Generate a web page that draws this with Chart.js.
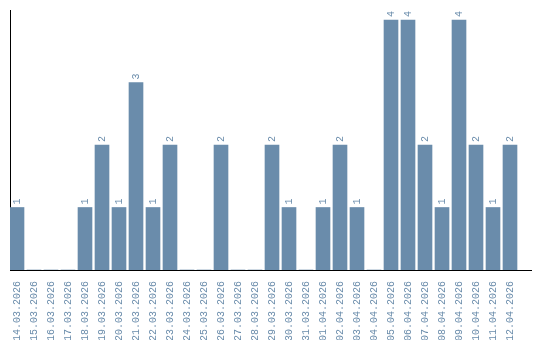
<!DOCTYPE html>
<html>
<head>
<meta charset="utf-8">
<script src="https://cdn.jsdelivr.net/npm/chart.js@4"></script>
<style>
  html, body { margin: 0; padding: 0; background: #fff; }
  #wrap { width: 540px; height: 340px; }
</style>
</head>
<body>
<div id="wrap"><canvas id="countChart" width="540" height="340"></canvas></div>
<script>
// Days and counts per day
const days = [
    '14.03.2026', '15.03.2026', '16.03.2026', '17.03.2026', '18.03.2026',
    '19.03.2026', '20.03.2026', '21.03.2026', '22.03.2026', '23.03.2026',
    '24.03.2026', '25.03.2026', '26.03.2026', '27.03.2026', '28.03.2026',
    '29.03.2026', '30.03.2026', '31.03.2026', '01.04.2026', '02.04.2026',
    '03.04.2026', '04.04.2026', '05.04.2026', '06.04.2026', '07.04.2026',
    '08.04.2026', '09.04.2026', '10.04.2026', '11.04.2026', '12.04.2026'
];
const counts = [
    1, 0, 0, 0, 1,
    2, 1, 3, 1, 2,
    0, 0, 2, 0, 0,
    2, 1, 0, 1, 2,
    1, 0, 4, 4, 2,
    1, 4, 2, 1, 2
];

const barColor = '#6a8cab';
const monoFont = '"Liberation Mono"';

// value labels above the bars, rotated like the axis labels
const barLabels = {
    id: 'barLabels',
    afterDatasetsDraw(chart) {
        const ctx = chart.ctx;
        const meta = chart.getDatasetMeta(0);
        ctx.save();
        ctx.fillStyle = barColor;
        ctx.font = '10px ' + monoFont;
        ctx.textAlign = 'left';
        ctx.textBaseline = 'middle';
        meta.data.forEach((bar, i) => {
            if (!counts[i]) return;
            ctx.save();
            ctx.translate(bar.x + 0.5, bar.y - 3);
            ctx.rotate(-Math.PI / 2);
            ctx.fillText(String(counts[i]), 0, 0);
            ctx.restore();
        });
        ctx.restore();
    }
};

document.addEventListener('DOMContentLoaded', () => {
    const ctx = document.getElementById('countChart').getContext('2d');
    new Chart(ctx, {
        type: 'bar',
        data: {
            datasets: [{
                data: counts.map((v, i) => ({ x: i, y: v })),
                backgroundColor: barColor,
                borderWidth: 0,
                barThickness: 14,
            }]
        },
        options: {
            responsive: false,
            animation: false,
            layout: { padding: { left: 10, top: 10, right: 9, bottom: 0 } },
            plugins: {
                legend: { display: false },
                tooltip: { enabled: false }
            },
            scales: {
                x: {
                    type: 'linear',
                    offset: false,
                    min: -7 / 17,
                    max: 521 / 17 - 7 / 17,
                    grid: { display: false },
                    border: { display: true, color: '#000', width: 1 },
                    afterBuildTicks: s => { s.ticks = days.map((_, i) => ({ value: i })); },
                    afterFit: s => { s.height = 70; },
                    ticks: {
                        autoSkip: false,
                        minRotation: 90,
                        maxRotation: 90,
                        padding: 3,
                        color: barColor,
                        font: { family: monoFont, size: 10 },
                        callback: value => days[value]
                    }
                },
                y: {
                    min: 0,
                    max: 4.16,
                    grid: { display: false },
                    border: { display: true, color: '#000', width: 1 },
                    ticks: { display: false },
                    afterFit: s => { s.width = 0; }
                }
            }
        },
        plugins: [barLabels]
    });
});
</script>
</body>
</html>
